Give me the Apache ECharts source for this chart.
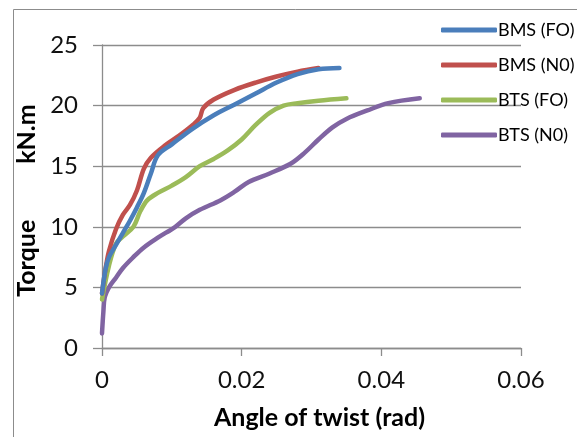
<!DOCTYPE html>
<html>
<head>
<meta charset="utf-8">
<script src="https://cdn.jsdelivr.net/npm/echarts@6/dist/echarts.min.js"></script>
<style>
  html, body { margin: 0; padding: 0; background: #fff; }
  #chart { width: 577px; height: 437px; }
</style>
</head>
<body>
<div id="chart"></div>
<script>
// Torque vs angle of twist for the four beam specimens
const seriesNames = ['BMS (FO)', 'BMS (N0)', 'BTS (FO)', 'BTS (N0)'];
const seriesColors = ['#4A7EBB', '#C0504D', '#9BBB59', '#8064A2'];

// [angle of twist (rad), torque (kN.m)]
const bmsFO = [
  [0, 4.5], [0.0005, 6.5], [0.001, 7.5], [0.002, 8.5], [0.003, 9.5],
  [0.004, 10.5], [0.005, 11.6], [0.006, 12.8], [0.007, 14.4], [0.008, 15.9],
  [0.010, 16.8], [0.013, 18.1], [0.016, 19.2], [0.019, 20.1], [0.022, 21.0],
  [0.025, 21.9], [0.028, 22.6], [0.031, 23.0], [0.034, 23.1]
];
const bmsN0 = [
  [0, 4.5], [0.0005, 6.5], [0.001, 8.0], [0.002, 9.8], [0.003, 11.0],
  [0.004, 11.8], [0.005, 13.0], [0.006, 14.8], [0.007, 15.7], [0.009, 16.7],
  [0.011, 17.5], [0.013, 18.4], [0.014, 19.0], [0.0145, 19.8], [0.016, 20.5],
  [0.019, 21.3], [0.022, 21.9], [0.025, 22.4], [0.028, 22.8], [0.031, 23.1]
];
const btsFO = [
  [0, 4.0], [0.001, 6.8], [0.002, 8.6], [0.003, 9.2], [0.0045, 10.0],
  [0.0055, 11.3], [0.0065, 12.2], [0.008, 12.8], [0.010, 13.4], [0.012, 14.1],
  [0.014, 15.0], [0.016, 15.6], [0.018, 16.3], [0.020, 17.2], [0.022, 18.4],
  [0.024, 19.4], [0.026, 20.0], [0.028, 20.2], [0.031, 20.4], [0.035, 20.6]
];
const btsN0 = [
  [0, 1.2], [0.0002, 3.0], [0.0004, 4.2], [0.001, 5.0], [0.002, 5.8],
  [0.003, 6.6], [0.0045, 7.5], [0.006, 8.3], [0.008, 9.1], [0.0105, 10.0],
  [0.012, 10.7], [0.014, 11.4], [0.017, 12.2], [0.019, 12.9], [0.021, 13.7],
  [0.024, 14.4], [0.027, 15.2], [0.029, 16.1], [0.031, 17.2], [0.033, 18.2],
  [0.035, 18.9], [0.038, 19.6], [0.041, 20.2], [0.0455, 20.6]
];
const seriesData = [bmsFO, bmsN0, btsFO, btsN0];

const xTickLabels = ['0', '0.02', '0.04', '0.06'];
const yTickLabels = ['0', '5', '10', '15', '20', '25'];

const FONT = 'Lato, "Open Sans", sans-serif';
const GRID_COLOR = '#8c8c8c';
const TITLE_STYLE = { fontFamily: FONT, fontSize: 25, fontWeight: 'bold', color: '#000' };

const chart = echarts.init(document.getElementById('chart'), null, { renderer: 'canvas' });

chart.setOption({
  animation: false,
  backgroundColor: '#fff',
  graphic: [{
    type: 'rect',
    shape: { x: 13.5, y: 9.5, width: 700, height: 600 },
    style: { fill: 'none', stroke: '#8c8c8c', lineWidth: 1 },
    silent: true,
    z: -10
  }],
  grid: { left: 102, right: 56, top: 45, bottom: 89, containLabel: false },
  legend: {
    orient: 'vertical',
    left: 436,
    top: 16,
    itemWidth: 56,
    itemHeight: 5,
    itemGap: 17,
    icon: 'roundRect',
    textStyle: { fontFamily: FONT, fontSize: 18, color: '#000', padding: [0, 0, 0, -4] },
    data: seriesNames
  },
  xAxis: {
    type: 'value',
    min: 0,
    max: 0.06,
    interval: 0.02,
    name: 'Angle of twist (rad)',
    nameLocation: 'middle',
    nameGap: 57,
    nameTextStyle: { fontFamily: FONT, fontSize: 25, fontWeight: 'bold', color: '#000', padding: [0, 0, 0, 16] },
    axisLine: { show: true, lineStyle: { color: GRID_COLOR, width: 1.3 } },
    axisTick: { show: true, inside: false, length: 8, lineStyle: { color: GRID_COLOR, width: 1.3 } },
    axisLabel: {
      fontFamily: FONT, fontSize: 24, color: '#111', margin: 20,
      formatter: (v) => xTickLabels[Math.round(v / 0.02)]
    },
    splitLine: { show: false }
  },
  yAxis: {
    type: 'value',
    min: 0,
    max: 25,
    interval: 5,
    name: '{t|Torque}{s| }{k|kN.m}',
    nameLocation: 'middle',
    nameGap: 45,
    nameTextStyle: {
      padding: [0, 8, 0, 0],
      rich: {
        t: TITLE_STYLE,
        k: TITLE_STYLE,
        s: Object.assign({}, TITLE_STYLE, { width: 56 })
      }
    },
    axisLine: { show: true, lineStyle: { color: GRID_COLOR, width: 1.3 } },
    axisTick: { show: true, inside: false, length: 9, lineStyle: { color: GRID_COLOR, width: 1.3 } },
    axisLabel: {
      fontFamily: FONT, fontSize: 24, color: '#111', margin: 24,
      formatter: (v) => yTickLabels[Math.round(v / 5)]
    },
    splitLine: { show: true, lineStyle: { color: GRID_COLOR, width: 1.3 } }
  },
  series: seriesNames.map((name, i) => ({
    name,
    type: 'line',
    data: seriesData[i],
    smooth: 0.35,
    showSymbol: false,
    symbol: 'none',
    color: seriesColors[i],
    lineStyle: { color: seriesColors[i], width: 4.5, cap: 'round', join: 'round' },
    z: 10 - i
  }))
});
</script>
</body>
</html>
